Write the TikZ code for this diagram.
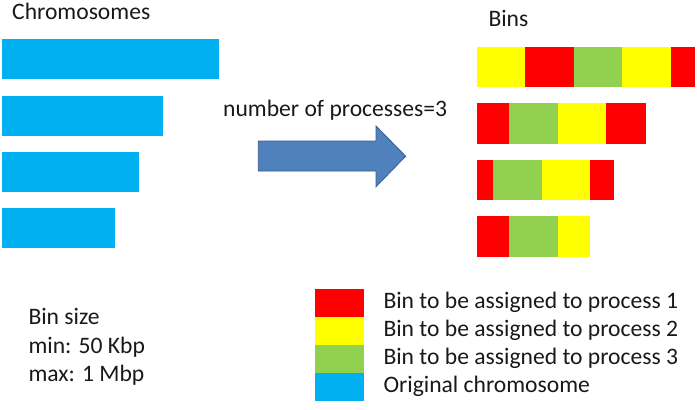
\documentclass[tikz,border=0pt]{standalone}
\usepackage{fontspec}
\setmainfont{Carlito}
\definecolor{binred}{HTML}{FF0000}
\definecolor{binyellow}{HTML}{FFFF00}
\definecolor{bingreen}{HTML}{92D050}
\definecolor{chromblue}{HTML}{00B0F0}
\definecolor{arrowfill}{HTML}{4F81BD}
\definecolor{arrowline}{HTML}{385D8A}
\tikzset{
  lbl/.style={anchor=base west, inner sep=0pt, font=\fontsize{23.6}{28}\selectfont, text=black!90},
}
\begin{document}
\begin{tikzpicture}[x=1pt,y=-1pt]
\useasboundingbox (0,0) rectangle (697,410);
% chromosomes
\node[lbl] (chromtitle) at (12,19) {Chromosomes};
\fill[chromblue] (2,39) rectangle (219,79);
\fill[chromblue] (2,96) rectangle (163,136);
\fill[chromblue] (2,152) rectangle (139,192);
\fill[chromblue] (2,208) rectangle (115,248);
% arrow
\node[lbl] (nproc) at (223,116) {number of processes=3};
\filldraw[fill=arrowfill, draw=arrowline, line width=0.8pt]
  (258.3,141) -- (376,141) -- (376,126) -- (405.7,156.3) -- (376,186.7) -- (376,171) -- (258.3,171) -- cycle;
% bins
\node[lbl] (binstitle) at (488.3,26.7) {Bins};
% row 1
\fill[binyellow] (477,47) rectangle (525.3,87.3);
\fill[binred] (525.3,47) rectangle (574,87.3);
\fill[bingreen] (574,47) rectangle (622.3,87.3);
\fill[binyellow] (622.3,47) rectangle (670.7,87.3);
\fill[binred] (670.7,47) rectangle (694.7,87.3);
% row 2
\fill[binred] (477,103.3) rectangle (509.3,144);
\fill[bingreen] (509.3,103.3) rectangle (557.7,144);
\fill[binyellow] (557.7,103.3) rectangle (606,144);
\fill[binred] (606,103.3) rectangle (646.3,144);
% row 3
\fill[binred] (477,160) rectangle (493.3,200.3);
\fill[bingreen] (493.3,160) rectangle (541.7,200.3);
\fill[binyellow] (541.7,160) rectangle (590,200.3);
\fill[binred] (590,160) rectangle (614.3,200.3);
% row 4
\fill[binred] (477,216.3) rectangle (509.3,257);
\fill[bingreen] (509.3,216.3) rectangle (557.7,257);
\fill[binyellow] (557.7,216.3) rectangle (590,257);
% bin size
\node[lbl] (binsize) at (28.3,324.3) {Bin size};
\node[lbl] (binmin) at (28.3,353) {min: 50 Kbp};
\node[lbl] (binmax) at (28.3,381.7) {max: 1 Mbp};
% legend
\fill[binred] (315,289) rectangle (364.3,316.7);
\fill[binyellow] (315,316.7) rectangle (364.3,345);
\fill[bingreen] (315,345) rectangle (364.3,373.3);
\fill[chromblue] (315,373.3) rectangle (364.3,400.7);
\node[lbl] (leg1) at (383.3,308.3) {Bin to be assigned to process 1};
\node[lbl] (leg2) at (383.3,336.5) {Bin to be assigned to process 2};
\node[lbl] (leg3) at (383.3,364.7) {Bin to be assigned to process 3};
\node[lbl] (leg4) at (383.3,392.9) {Original chromosome};
\end{tikzpicture}
\end{document}
